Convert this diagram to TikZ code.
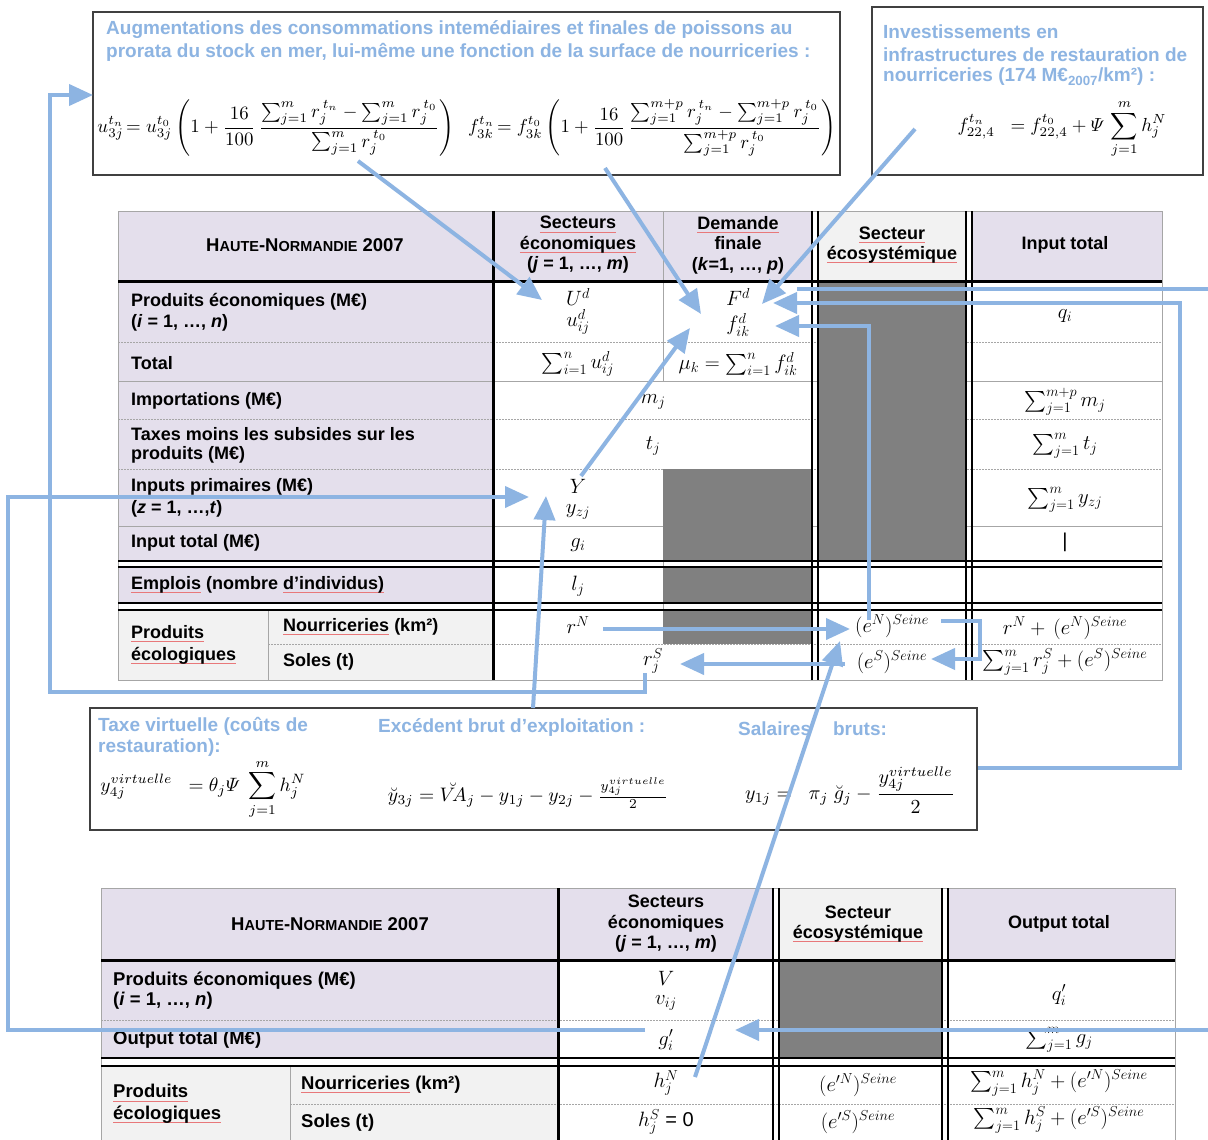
\documentclass[tikz,border=0pt]{standalone}
\usepackage{fontspec}
\usepackage{amsmath}
\usepackage{graphicx}
\setmainfont{Liberation Sans}
\usetikzlibrary{arrows.meta}

\definecolor{lav}{HTML}{E4DFEC}
\definecolor{pale}{HTML}{F2F2F2}
\definecolor{cellgray}{HTML}{808080}
\definecolor{flowblue}{HTML}{8DB4E2}
\definecolor{rulegray}{HTML}{A6A6A6}
\definecolor{framegray}{HTML}{404040}
\definecolor{spellred}{HTML}{E8787A}

% red spell-check underline under a word
\newsavebox{\spellbox}
\newcommand{\spell}[1]{\leavevmode\sbox{\spellbox}{#1}\rlap{\textcolor{spellred}{\rule[-3.5pt]{\wd\spellbox}{0.9pt}}}\usebox{\spellbox}}
% small-caps title
\newcommand{\hnsc}{{\fontsize{18.5}{20}\selectfont H{\fontsize{14.5}{16}\selectfont AUTE}-N{\fontsize{14.5}{16}\selectfont ORMANDIE} 2007}}

\begin{document}
\begin{tikzpicture}[x=1pt,y=-1pt,
  lbl/.style={font=\fontsize{18}{21}\selectfont\bfseries, anchor=west, inner sep=0pt},
  lbltwo/.style={font=\fontsize{18.5}{21}\selectfont\bfseries, anchor=west, inner sep=0pt},
  hdr/.style={font=\fontsize{18}{20.5}\selectfont\bfseries, align=center, inner sep=0pt},
  note/.style={font=\fontsize{19}{22}\selectfont\bfseries, text=flowblue, anchor=west, inner sep=0pt},
  mcell/.style={font=\fontsize{20}{22}\selectfont, inner sep=0pt},
  formula/.style={inner sep=0pt},
  flow/.style={draw=flowblue, line width=4pt, -{Triangle[length=24pt,width=21pt]}},
  flowline/.style={draw=flowblue, line width=4pt},
  gridline/.style={draw=rulegray, line width=0.9pt},
  dotrule/.style={draw=rulegray, line width=0.9pt, dash pattern=on 1.5pt off 1.5pt},
  boldrule/.style={draw=black, line width=3pt},
  dblrule/.style={draw=black, line width=2.5pt},
  frm/.style={draw=framegray, line width=1.2pt, fill=white},
]
\useasboundingbox (0,0) rectangle (1208,1140);
\fill[white] (0,0) rectangle (1208,1140);

% ================= top-left note =================
\draw[frm] (93,12) rectangle (840,175);
\node[note] (noteA1) at (106,30) {Augmentations des consommations intemédiaires et finales de poissons au};
\node[note] (noteA2) at (106,52) {prorata du stock en mer, lui-même une fonction de la surface de nourriceries :};
\node[formula] (uform) at (276,128) {\resizebox{357pt}{!}{$\displaystyle u^{t_n}_{3j}\!= u^{t_0}_{3j}\left(1+\frac{16}{100}\,\frac{\sum_{j=1}^{m} r_j^{\,t_n}-\sum_{j=1}^{m} r_j^{\,t_0}}{\sum_{j=1}^{m} r_j^{\,t_0}}\right)$}};
\node[formula] (fform) at (652,128) {\resizebox{368pt}{!}{$\displaystyle f^{t_n}_{3k}\!= f^{t_0}_{3k}\left(1+\frac{16}{100}\,\frac{\sum_{j=1}^{m+p} r_j^{\,t_n}-\sum_{j=1}^{m+p} r_j^{\,t_0}}{\sum_{j=1}^{m+p} r_j^{\,t_0}}\right)$}};

% ================= top-right note =================
\draw[frm] (872,7) rectangle (1203,175);
\node[note] (noteB1) at (883,32) {Investissements en};
\node[note] (noteB2) at (883,55) {infrastructures de restauration de};
\node[note] (noteB3) at (883,77) {nourriceries (174 M€\textsubscript{2007}/km²) :};
\node[formula] (invform) at (1062,129) {\resizebox{209pt}{!}{$\displaystyle f^{t_n}_{22,4}\ \ = f^{t_0}_{22,4}+\varPsi\,\sum_{j=1}^{m} h_j^N$}};

% ================= table 1: backgrounds =================
\fill[lav] (118,211) rectangle (812,281);
\fill[pale] (818,211) rectangle (966,281);
\fill[lav] (972,211) rectangle (1162,281);
\fill[lav] (118,281) rectangle (493,561);
\fill[lav] (118,567) rectangle (493,603);
\fill[pale] (118,610) rectangle (493,680);
% light rules
\draw[gridline] (118,211) rectangle (1162,680);
\draw[gridline] (118,381) -- (1162,381);
\draw[gridline] (118,526) -- (1162,526);
\foreach \y in {342,419,469} \draw[dotrule] (118,\y) -- (1162,\y);
\draw[dotrule] (268,644) -- (1162,644);
\draw[gridline] (663,211) -- (663,381);
\draw[gridline] (663,469) -- (663,644);
\draw[gridline] (268,610) -- (268,680);
% dark cells
\fill[cellgray] (818,281) rectangle (966,561);
\fill[cellgray] (663,469) rectangle (812,561);
\fill[cellgray] (663,567) rectangle (812,603);
\fill[cellgray] (663,610) rectangle (812,644);
% heavy rules
\draw[boldrule] (493,211) -- (493,680);
\foreach \x in {812,818,966,972} \draw[dblrule] (\x,211) -- (\x,680);
\draw[boldrule] (118,281) -- (1162,281);
\foreach \y in {561,567,603,610} \draw[dblrule] (118,\y) -- (1162,\y);

% headers
\node[hdr] (h1title) at (305,245) {\hnsc};
\node[hdr] (h1eco) at (578,245) {\spell{Secteurs}\\\spell{économiques}\\(\textit{j} = 1, …, \textit{m})};
\node[hdr] (h1dem) at (738,245) {\spell{Demande}\\finale\\(\textit{k}=1, …, \textit{p})};
\node[hdr] (h1sys) at (892,245) {\spell{Secteur}\\\spell{écosystémique}};
\node[hdr] (h1tot) at (1065,245) {Input total};

% row labels
\node[lbl] (r1a) at (131,302) {Produits économiques (M€)};
\node[lbl] (r1b) at (131,323) {(\textit{i} = 1, …, \textit{n})};
\node[lbl] (r2) at (131,363) {Total};
\node[lbl] (r3) at (131,401) {Importations (M€)};
\node[lbl] (r4a) at (131,434) {Taxes moins les subsides sur les};
\node[lbl] (r4b) at (131,455) {produits (M€)};
\node[lbl] (r5a) at (131,487) {Inputs primaires (M€)};
\node[lbl] (r5b) at (131,509) {(\textit{z} = 1, …,\textit{t})};
\node[lbl] (r6) at (131,543) {Input total (M€)};
\node[lbl] (r7) at (131,585) {\spell{Emplois} (nombre \spell{d’individus)}};
\node[lbl] (r8a) at (131,634) {\spell{Produits}};
\node[lbl] (r8b) at (131,656) {\spell{écologiques}};
\node[lbl] (r8n) at (283,627) {\spell{Nourriceries} (km²)};
\node[lbl] (r8s) at (283,662) {Soles (t)};

% cell contents
\node[mcell] (Ud) at (578,297) {$U^d$};
\node[mcell] (uij) at (578,322) {$u^d_{ij}$};
\node[mcell] (Fd) at (738,297) {$F^d$};
\node[mcell] (fik) at (738,325) {$f^d_{ik}$};
\node[mcell] (qi) at (1065,316) {$q_i$};
\node[mcell] (sumu) at (578,364) {$\sum_{i=1}^{n} u^d_{ij}$};
\node[mcell] (muk) at (738,364) {$\mu_k=\sum_{i=1}^{n} f^d_{ik}$};
\node[mcell] (mj) at (653,402) {$m_j$};
\node[mcell] (summj) at (1065,402) {$\sum_{j=1}^{m+p} m_j$};
\node[mcell] (tj) at (653,446) {$t_j$};
\node[mcell] (sumtj) at (1065,446) {$\sum_{j=1}^{m} t_j$};
\node[mcell] (Ycap) at (578,486) {$Y$};
\node[mcell] (yzj) at (578,512) {$y_{zj}$};
\node[mcell] (sumyzj) at (1065,500) {$\sum_{j=1}^{m} y_{zj}$};
\node[mcell] (gi) at (578,545) {$g_i$};
\node[mcell] (cursor) at (1065,542) {|};
\node[mcell] (lj) at (578,586) {$l_j$};
\node[mcell] (rN) at (578,625) {$r^N$};
\node[mcell] (eN) at (892,626) {$(e^N)^{Seine}$};
\node[mcell] (rNeN) at (1065,628) {$r^N+\,(e^N)^{Seine}$};
\node[mcell] (rjS) at (653,661) {$r_j^S$};
\node[mcell] (eS) at (892,662) {$(e^S)^{Seine}$};
\node[mcell] (sumrS) at (1065,662) {$\sum_{j=1}^{m} r_j^S+(e^S)^{Seine}$};

% ================= middle note =================
\draw[frm] (90,708) rectangle (977,830);
\node[note] (noteC1) at (98,726) {Taxe virtuelle (coûts de};
\node[note] (noteC2) at (98,748) {restauration):};
\node[note] (noteD) at (378,727) {Excédent brut d’exploitation :};
\node[note] (noteE) at (738,729) {Salaires\hspace{22pt}bruts:};
\node[formula] (virtform) at (203,789) {\resizebox{205pt}{!}{$\displaystyle y^{virtuelle}_{4j}\ \ = \theta_j\varPsi\ \sum_{j=1}^{m} h_j^N$}};
\node[formula] (ebeform) at (528,793) {\resizebox{280pt}{!}{$\breve{y}_{3j}=\breve{V\!A}_j-y_{1j}-y_{2j}-\frac{y_{4j}^{virtuelle}}{2}$}};
\node[formula] (salform) at (850,790) {\resizebox{210pt}{!}{$\displaystyle y_{1j}=\ \ \pi_j\ \breve{g}_j-\frac{y_{4j}^{virtuelle}}{2}$}};

% ================= table 2: backgrounds =================
\fill[lav] (101,888) rectangle (773,960);
\fill[pale] (779,888) rectangle (942,960);
\fill[lav] (948,888) rectangle (1175,960);
\fill[lav] (101,960) rectangle (558,1058);
\fill[pale] (101,1066) rectangle (558,1140);
\draw[gridline] (101,1140) -- (101,888) -- (1175,888) -- (1175,1140);
\draw[dotrule] (101,1020) -- (1175,1020);
\draw[dotrule] (290,1104) -- (1175,1104);
\draw[gridline] (290,1066) -- (290,1140);
\fill[cellgray] (779,960) rectangle (942,1058);
\draw[boldrule] (558,888) -- (558,1140);
\foreach \x in {773,779,942,948} \draw[dblrule] (\x,888) -- (\x,1140);
\draw[boldrule] (101,960) -- (1175,960);
\foreach \y in {1058,1066} \draw[dblrule] (101,\y) -- (1175,\y);

\node[hdr] (h2title) at (330,924) {\hnsc};
\node[hdr] (h2eco) at (666,924) {Secteurs\\économiques\\(\textit{j} = 1, …, \textit{m})};
\node[hdr] (h2sys) at (858,924) {Secteur\\\spell{écosystémique}};
\node[hdr] (h2tot) at (1059,924) {Output total};

\node[lbltwo] (s1a) at (113,981) {Produits économiques (M€)};
\node[lbltwo] (s1b) at (113,1001) {(\textit{i} = 1, …, \textit{n})};
\node[lbltwo] (s2) at (113,1040) {Output total (M€)};
\node[lbltwo] (s3a) at (113,1093) {\spell{Produits}};
\node[lbltwo] (s3b) at (113,1115) {\spell{écologiques}};
\node[lbltwo] (s3n) at (301,1085) {\spell{Nourriceries} (km²)};
\node[lbltwo] (s3s) at (301,1123) {Soles (t)};

\node[mcell] (Vcap) at (666,978) {$V$};
\node[mcell] (vij) at (666,1003) {$v_{ij}$};
\node[mcell] (qpi) at (1059,995) {$q_i^{\prime}$};
\node[mcell] (gpi) at (666,1040) {$g_i^{\prime}$};
\node[mcell] (sumg) at (1059,1040) {$\sum_{j=1}^{m} g_j$};
\node[mcell] (hN) at (666,1083) {$h_j^N$};
\node[mcell] (hS) at (666,1122) {$h_j^S$ = 0};
\node[mcell] (epN) at (858,1085) {$(e^{\prime N})^{Seine}$};
\node[mcell] (epS) at (858,1122) {$(e^{\prime S})^{Seine}$};
\node[mcell] (sumhN) at (1059,1083) {$\sum_{j=1}^{m} h_j^N+(e^{\prime N})^{Seine}$};
\node[mcell] (sumhS) at (1059,1120) {$\sum_{j=1}^{m} h_j^S+(e^{\prime S})^{Seine}$};

% ================= connector end points =================
\coordinate (uSrc) at (358,161);
\coordinate (UdIn) at (542,300);
\coordinate (fSrc) at (605,168);
\coordinate (fikIn) at (701,314);
\coordinate (invSrc) at (915,129);
\coordinate (FdIn) at (762,304);
\coordinate (Ytop) at (581,476);
\coordinate (fikLow) at (690,328);
\coordinate (salR) at (978,768);
\coordinate (railR) at (1180,768);
\coordinate (FdR) at (773,303);
\coordinate (offA) at (797,289);
\coordinate (offB) at (1208,289);
\coordinate (eNtop) at (869,620);
\coordinate (fikR) at (775,326);
\coordinate (rNR) at (603,629);
\coordinate (eNL) at (850,629);
\coordinate (eNR) at (941,621);
\coordinate (eSjog) at (980,659);
\coordinate (eSR) at (931,659);
\coordinate (eSL) at (845,664);
\coordinate (rSR) at (680,664);
\coordinate (rSbot) at (645,673);
\coordinate (loopA) at (50,692);
\coordinate (noteAL) at (93,95);
\coordinate (ebeTop) at (533,708);
\coordinate (yzjIn) at (546,496);
\coordinate (gpL) at (645,1030);
\coordinate (loopB) at (8,1030);
\coordinate (YIn) at (529,497);
\coordinate (offC) at (1208,1030);
\coordinate (gpR) at (735,1030);
\coordinate (hNtop) at (695,1077);
\coordinate (eNlow) at (840,641);

% ================= connectors =================
\draw[flow] (uSrc) -- (UdIn);
\draw[flow] (fSrc) -- (fikIn);
\draw[flow] (invSrc) -- (FdIn);
\draw[flow] (Ytop) -- (fikLow);
\draw[flow] (salR) -- (railR) |- (FdR);
\draw[flowline] (offA) -- (offB);
\draw[flow] (eNtop) |- (fikR);
\draw[flow] (rNR) -- (eNL);
\draw[flow] (eNR) -| (eSjog) -- (eSR);
\draw[flow] (eSL) -- (rSR);
\draw[flow] (rSbot) |- (loopA) |- (noteAL);
\draw[flow] (ebeTop) -- (yzjIn);
\draw[flow] (gpL) -- (loopB) |- (YIn);
\draw[flow] (offC) -- (gpR);
\draw[flow] (hNtop) -- (eNlow);
\end{tikzpicture}
\end{document}
